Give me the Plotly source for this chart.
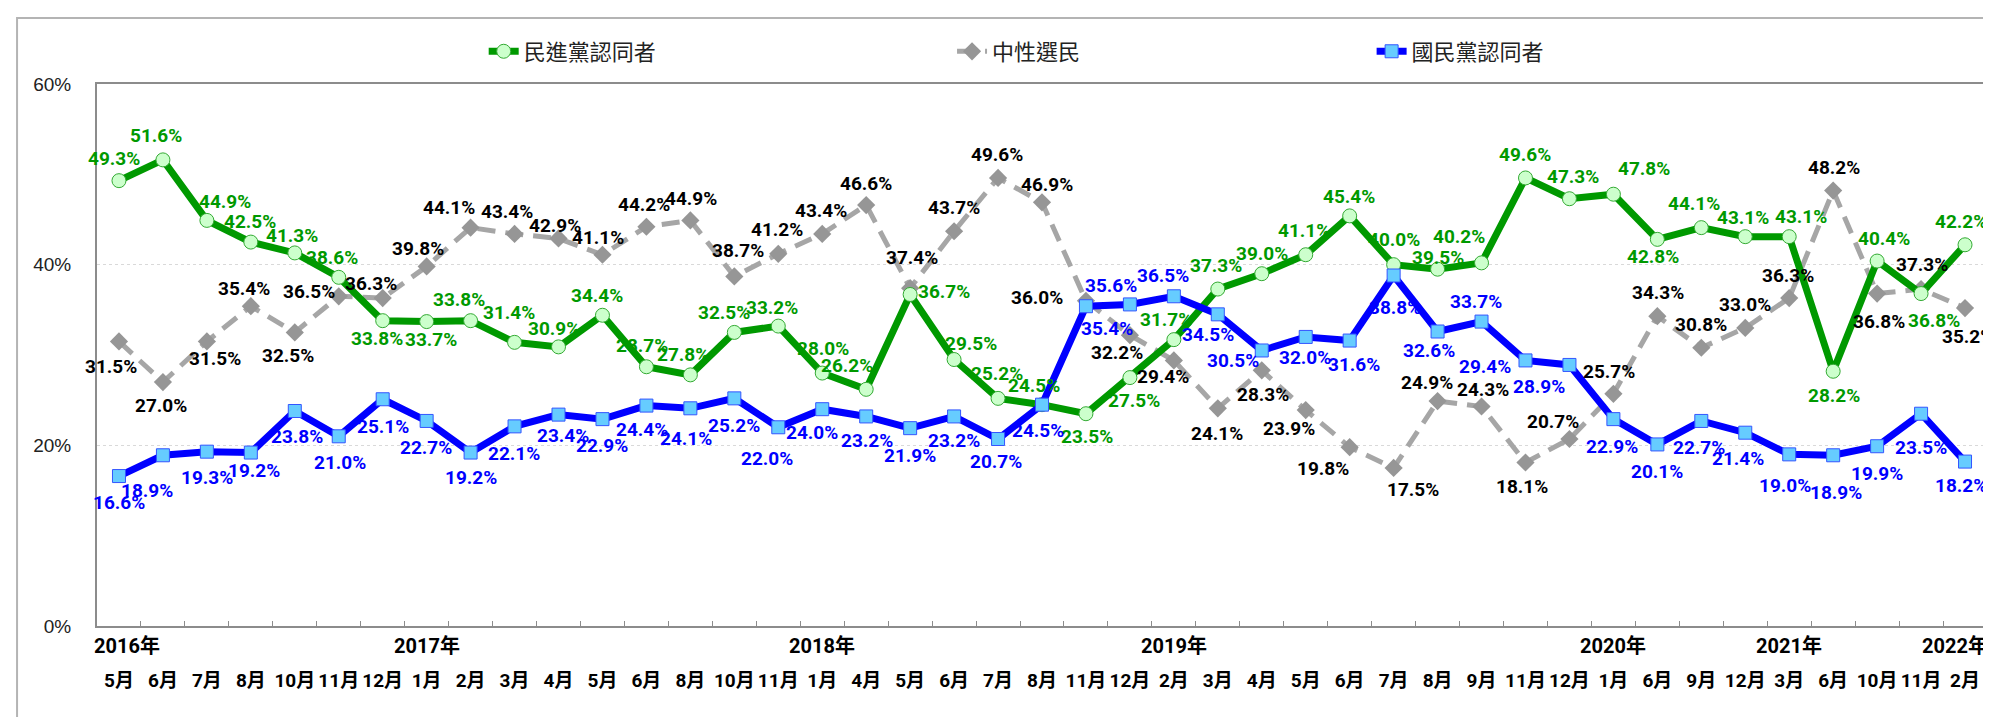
import plotly.graph_objects as go

# ---------------- data ----------------
months = ["5月", "6月", "7月", "8月", "10月", "11月", "12月",
          "1月", "2月", "3月", "4月", "5月", "6月", "8月", "10月", "11月",
          "1月", "4月", "5月", "6月", "7月", "8月", "11月", "12月",
          "2月", "3月", "4月", "5月", "6月", "7月", "8月", "9月", "11月", "12月",
          "1月", "6月", "9月", "12月",
          "3月", "6月", "10月", "11月",
          "2月"]
years = ["2016年", "2017年", "2018年", "2019年", "2020年", "2021年", "2022年"]
year_start = [0, 7, 16, 24, 34, 38, 42]

dpp = [49.3, 51.6, 44.9, 42.5, 41.3, 38.6, 33.8, 33.7, 33.8, 31.4, 30.9, 34.4, 28.7, 27.8,
       32.5, 33.2, 28.0, 26.2, 36.7, 29.5, 25.2, 24.5, 23.5, 27.5, 31.7, 37.3, 39.0, 41.1,
       45.4, 40.0, 39.5, 40.2, 49.6, 47.3, 47.8, 42.8, 44.1, 43.1, 43.1, 28.2, 40.4, 36.8, 42.2]
neutral = [31.5, 27.0, 31.5, 35.4, 32.5, 36.5, 36.3, 39.8, 44.1, 43.4, 42.9, 41.1, 44.2, 44.9,
           38.7, 41.2, 43.4, 46.6, 37.4, 43.7, 49.6, 46.9, 36.0, 32.2, 29.4, 24.1, 28.3, 23.9,
           19.8, 17.5, 24.9, 24.3, 18.1, 20.7, 25.7, 34.3, 30.8, 33.0, 36.3, 48.2, 36.8, 37.3, 35.2]
kmt = [16.6, 18.9, 19.3, 19.2, 23.8, 21.0, 25.1, 22.7, 19.2, 22.1, 23.4, 22.9, 24.4, 24.1,
       25.2, 22.0, 24.0, 23.2, 21.9, 23.2, 20.7, 24.5, 35.4, 35.6, 36.5, 34.5, 30.5, 32.0,
       31.6, 38.8, 32.6, 33.7, 29.4, 28.9, 22.9, 20.1, 22.7, 21.4, 19.0, 18.9, 19.9, 23.5, 18.2]

series_names = ["民進黨認同者", "中性選民", "國民黨認同者"]
y_ticks = [0, 20, 40, 60]
y_tick_text = ["0%", "20%", "40%", "60%"]

# ---------------- label offsets (px, style only) ----------------
dpp_off = [(-5, 22), (-7, 24), (18, 19), (-1, 21), (-3, 17), (-7, 20), (-6, -18), (4, -18),
           (-12, 21), (-6, 30), (-5, 18), (-5, 20), (-4, 21), (-7, 20), (-10, 20), (-6, 19),
           (1, 25), (-19, 24), (34, 3), (17, 16), (-1, 25), (-8, 19), (1, -23), (4, -23),
           (-8, 20), (-2, 24), (0, 20), (-2, 24), (-1, 19), (0, 25), (0, 12), (-23, 26),
           (0, 23), (4, 22), (31, 26), (-4, -17), (-7, 24), (-2, 19), (12, 20), (1, -24),
           (7, 23), (13, -27), (-4, 23)]
neu_off = [(-8, -25), (-2, -23), (8, -17), (-7, 18), (-7, -23), (-30, 5), (-12, 15), (-9, 18),
           (-22, 20), (-8, 22), (-4, 13), (-4, 17), (-2, 22), (1, 22), (4, 26), (-1, 24),
           (-1, 23), (0, 22), (2, 31), (0, 24), (-1, 23), (5, 18), (-49, 3), (-13, -17),
           (-11, -16), (-1, -25), (1, -24), (-17, -18), (-27, -21), (19, -22), (-11, 19),
           (1, 17), (-3, -24), (-16, 18), (-4, 22), (1, 24), (0, 23), (0, 23), (-1, 23),
           (1, 23), (2, -28), (1, 25), (3, -28)]
kmt_off = [(0, -26), (-16, -35), (0, -26), (3, -18), (2, -25), (1, -26), (0, -27), (-1, -27),
           (0, -25), (-1, -27), (4, -21), (0, -26), (-4, -24), (-4, -30), (0, -27), (-11, -31),
           (-10, -23), (1, -24), (0, -27), (0, -24), (-2, -22), (-4, -26), (21, -22), (-19, 19),
           (-11, 21), (-10, -20), (-29, -10), (-1, -21), (4, -24), (1, -32), (-9, -19), (-6, 20),
           (-40, -6), (-30, -22), (-1, -27), (0, -27), (-2, -27), (-7, -26), (-4, -31), (3, -37),
           (0, -27), (0, -34), (-4, -24)]
year_shift = [8, 0, 0, 0, 0, 0, -10]

LBL = "Roboto, Liberation Sans, Noto Sans CJK TC, sans-serif"
CJK = "Noto Sans CJK TC, Noto Sans CJK SC, sans-serif"

GREEN = "#009900"
BLUE = "#0000ff"
GRAY = "#a6a6a6"

x = list(range(len(months)))

fig = go.Figure()

fig.add_trace(go.Scatter(
    x=x, y=neutral, name=series_names[1], mode="lines+markers", legend="legend2",
    line=dict(color=GRAY, width=5, dash="18px,10px"),
    marker=dict(symbol="diamond", size=14, color="#969696", line=dict(width=0)),
    hoverinfo="skip"))
fig.add_trace(go.Scatter(
    x=x, y=dpp, name=series_names[0], mode="lines+markers", legend="legend",
    line=dict(color=GREEN, width=7),
    marker=dict(symbol="circle", size=14, color="#ccffcc", line=dict(color="#33aa33", width=1)),
    hoverinfo="skip"))
fig.add_trace(go.Scatter(
    x=x, y=kmt, name=series_names[2], mode="lines+markers", legend="legend3",
    line=dict(color=BLUE, width=7),
    marker=dict(symbol="square", size=13, color="#66ccff", line=dict(color="#3355ff", width=1)),
    hoverinfo="skip"))

annotations = []
for vals, offs, col in [(neutral, neu_off, "#000000"), (dpp, dpp_off, GREEN), (kmt, kmt_off, BLUE)]:
    for i, (v, (dx, dy)) in enumerate(zip(vals, offs)):
        annotations.append(dict(
            x=x[i], y=v, xref="x", yref="y", text=f"{v:.1f}%", showarrow=False,
            xanchor="center", yanchor="middle", xshift=dx, yshift=dy,
            font=dict(family=LBL, size=19, color=col, weight="bold")))

for yl, idx, sh in zip(years, year_start, year_shift):
    annotations.append(dict(
        x=idx, y=-0.036, xref="x", yref="paper", text=yl, showarrow=False,
        xanchor="center", yanchor="middle", xshift=sh,
        font=dict(family=LBL, size=20, color="#000000", weight="bold")))

legend_common = dict(orientation="h", yanchor="middle", y=1.06, xanchor="left",
                     bgcolor="rgba(0,0,0,0)", borderwidth=0,
                     font=dict(family=CJK, size=22, color="#222222"))

fig.update_layout(
    width=1991, height=717,
    margin=dict(l=89, r=10, t=76, b=99),
    paper_bgcolor="white", plot_bgcolor="white",
    showlegend=True,
    legend=dict(x=0.2046, **legend_common),
    legend2=dict(x=0.4524, **legend_common),
    legend3=dict(x=0.6744, **legend_common),
    annotations=annotations,
    xaxis=dict(
        range=[-0.5, len(months) - 0.5], tickmode="array", tickvals=x, ticktext=months,
        tickangle=0, ticks="", showgrid=False, zeroline=False,
        showline=True, linecolor="#8c8c8c", linewidth=2, mirror=True,
        tickfont=dict(family=LBL, size=19, color="#000000", weight="bold"),
        ticklabelstandoff=36,
        minor=dict(tickmode="array", tickvals=[i + 0.5 for i in x[:-1]], ticks="inside",
                   ticklen=5, tickcolor="#8c8c8c", tickwidth=1, showgrid=False),
    ),
    yaxis=dict(
        range=[0, 60], tickmode="array", tickvals=y_ticks, ticktext=y_tick_text,
        ticks="", showgrid=True, gridcolor="#d9d9d9", gridwidth=1, griddash="dot",
        zeroline=False, showline=True, linecolor="#8c8c8c", linewidth=2, mirror=True,
        tickfont=dict(family="Liberation Sans, Arial, sans-serif", size=19, color="#222222"),
        ticklabelstandoff=20,
    ),
    shapes=[dict(type="rect", xref="paper", yref="paper", x0=-0.0423, x1=1.0048,
                 y0=-0.179, y1=1.1218, line=dict(color="#b4b4b4", width=2),
                 fillcolor="rgba(0,0,0,0)", layer="below")],
)

fig.write_html("out.html")
